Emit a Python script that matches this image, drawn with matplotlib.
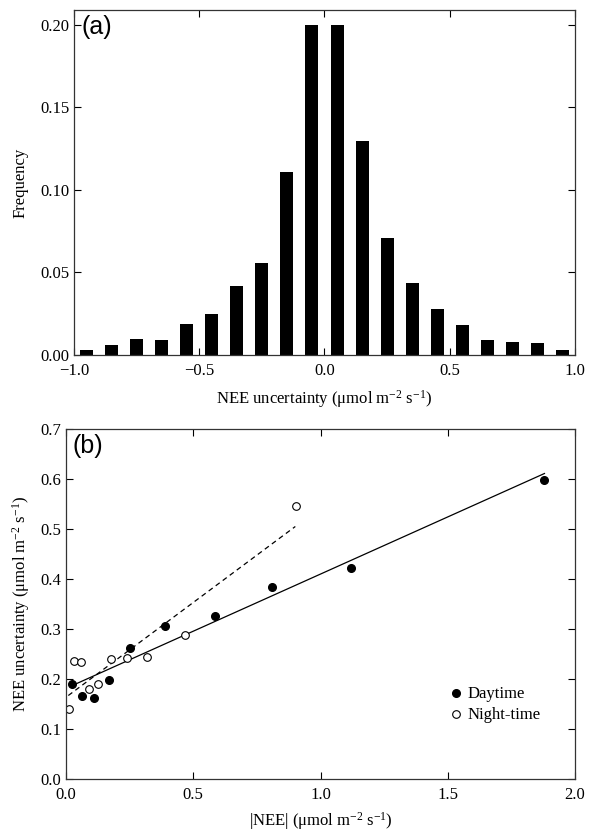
import numpy as np
import matplotlib.pyplot as plt

# (a) histogram of NEE uncertainty
bin_centers = [-0.95, -0.85, -0.75, -0.65, -0.55, -0.45, -0.35, -0.25, -0.15, -0.05,
               0.05, 0.15, 0.25, 0.35, 0.45, 0.55, 0.65, 0.75, 0.85, 0.95]
freq = [0.003, 0.006, 0.010, 0.0093, 0.0188, 0.0248, 0.042, 0.056, 0.111, 0.200,
        0.200, 0.1295, 0.0707, 0.0434, 0.0279, 0.0182, 0.0093, 0.0079, 0.0075, 0.003]

# (b) uncertainty vs |NEE|
day_x = [0.024, 0.063, 0.109, 0.168, 0.253, 0.390, 0.584, 0.809, 1.118, 1.877]
day_y = [0.190, 0.167, 0.163, 0.198, 0.263, 0.306, 0.327, 0.385, 0.423, 0.597]
night_x = [0.012, 0.031, 0.058, 0.090, 0.127, 0.176, 0.238, 0.317, 0.469, 0.905]
night_y = [0.141, 0.236, 0.234, 0.181, 0.190, 0.240, 0.243, 0.245, 0.289, 0.546]
day_fit_x = [0.016, 1.88]
day_fit_y = [0.185, 0.611]
night_fit_x = [0.009, 0.901]
night_fit_y = [0.167, 0.505]

plt.rcParams['font.family'] = ['Liberation Serif', 'DejaVu Serif']
plt.rcParams['mathtext.fontset'] = 'custom'
plt.rcParams['mathtext.rm'] = 'Liberation Serif'
plt.rcParams['mathtext.it'] = 'Liberation Serif:italic'

fig = plt.figure(figsize=(6.04, 8.33), dpi=100)
ax1 = fig.add_axes([0.1225, 0.5738, 0.8295, 0.4142])
ax2 = fig.add_axes([0.1093, 0.0648, 0.8427, 0.4202])

unit = r'($\mathrm{\mu}$mol m$^{-2}$ s$^{-1}$)'

ax1.bar(bin_centers, freq, width=0.052, color='black')
ax1.set_xlim(-1, 1)
ax1.set_ylim(0, 0.209)
ax1.set_xticks([-1.0, -0.5, 0.0, 0.5, 1.0])
ax1.set_xticklabels(['\u22121.0', '\u22120.5', '0.0', '0.5', '1.0'])
ax1.set_yticks([0, 0.05, 0.10, 0.15, 0.20])
ax1.set_yticklabels(['0.00', '0.05', '0.10', '0.15', '0.20'])
ax1.set_xlabel('NEE uncertainty ' + unit, fontsize=12, labelpad=6)
ax1.set_ylabel('Frequency', fontsize=12, labelpad=8)
ax1.text(0.015, 0.985, '(a)', transform=ax1.transAxes, ha='left', va='top',
         fontsize=18, family='Liberation Sans')

ax2.plot(day_fit_x, day_fit_y, color='black', lw=0.9)
ax2.plot(night_fit_x, night_fit_y, color='black', lw=0.9, ls=(0, (4, 3)))
ax2.plot(day_x, day_y, 'o', color='black', ms=5.5, label='Daytime')
ax2.plot(night_x, night_y, 'o', mfc='white', mec='black', mew=0.8, ms=5.5,
         label='Night-time')
ax2.set_xlim(0, 2)
ax2.set_ylim(0, 0.7)
ax2.set_xticks([0, 0.5, 1.0, 1.5, 2.0])
ax2.set_yticks(np.arange(0, 0.71, 0.1))
ax2.set_xlabel('|NEE| ' + unit, fontsize=12, labelpad=5)
ax2.set_ylabel('NEE uncertainty ' + unit, fontsize=12, labelpad=6)
ax2.text(0.012, 0.985, '(b)', transform=ax2.transAxes, ha='left', va='top',
         fontsize=18, family='Liberation Sans')
ax2.legend(loc='lower left', bbox_to_anchor=(0.73, 0.135), frameon=False,
           fontsize=12, handletextpad=0.1, handlelength=1.2, labelspacing=0.3,
           borderpad=0)

for ax in (ax1, ax2):
    ax.tick_params(direction='in', top=True, right=True, labelsize=12,
                   length=5, width=0.8)
    ax.tick_params(axis='x', pad=6)
    for s in ax.spines.values():
        s.set_linewidth(0.9)
        s.set_color('#333333')

fig.savefig('out.png', dpi=100)
